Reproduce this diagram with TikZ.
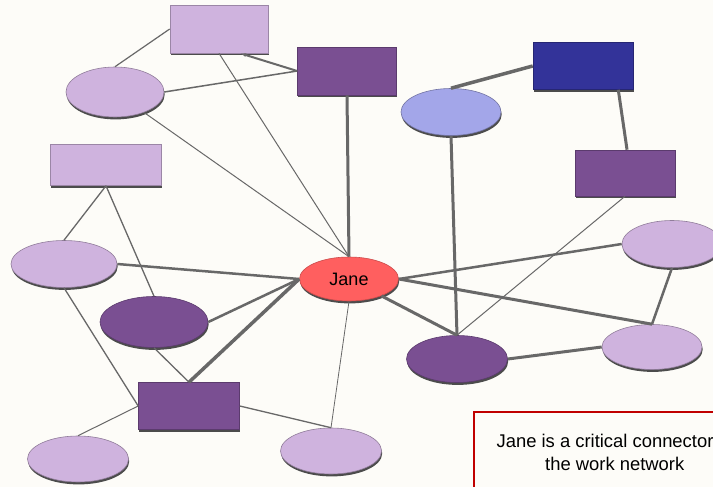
\documentclass[tikz,border=0pt]{standalone}
\usepackage{fontspec}
\setmainfont{Liberation Sans}
\usetikzlibrary{shapes.geometric,arrows.meta}

\definecolor{paper}{HTML}{FDFCF8}
\definecolor{lilac}{HTML}{CFB3DE}
\definecolor{plum}{HTML}{7A4F92}
\definecolor{navy}{HTML}{333399}
\definecolor{periwinkle}{HTML}{A3A6E9}
\definecolor{coral}{HTML}{FF5F5F}
\definecolor{linkgrey}{HTML}{686868}
\definecolor{notered}{HTML}{C00000}

\tikzset{
  member/.style={inner sep=0pt, line width=0.6pt,
    preaction={fill=black!70, transform canvas={xshift=0.7pt, yshift=-2.4pt}}},
  lightbox/.style={member, rectangle, fill=lilac, draw=lilac!75!black, minimum width=98pt, minimum height=48pt},
  darkbox/.style={member, rectangle, fill=plum, draw=plum!75!black, minimum width=100pt, minimum height=47pt},
  navybox/.style={member, rectangle, fill=navy, draw=navy!75!black, minimum width=100pt, minimum height=47pt},
  lightoval/.style={member, ellipse, fill=lilac, draw=lilac!70!black, minimum width=100pt, minimum height=47pt},
  darkoval/.style={member, ellipse, fill=plum, draw=plum!75!black, minimum width=101pt, minimum height=47pt},
  blueoval/.style={member, ellipse, fill=periwinkle, draw=periwinkle!70!black, minimum width=100pt, minimum height=47pt},
  janeoval/.style={member, ellipse, fill=coral, draw=coral!80!black, minimum width=99pt, minimum height=44pt,
    font=\fontsize{18}{22}\selectfont},
  thinlink/.style={draw=linkgrey, line width=1pt},
  midlink/.style={draw=linkgrey, line width=2pt},
  boldlink/.style={draw=linkgrey, line width=3pt},
  notebox/.style={draw=notered, line width=1.5pt, fill=paper, align=center, anchor=north west,
    minimum width=282pt, minimum height=81pt, font=\fontsize{18.4}{23}\selectfont}
}

\begin{document}
\begin{tikzpicture}[x=1pt,y=-1pt]
\useasboundingbox (0,0) rectangle (713,487);
\clip (0,0) rectangle (713,487);
\fill [paper] (0,0) rectangle (713,487);

% people
\node [lightbox] (b1) at (219,29) {};
\node [darkbox, minimum width=99pt, minimum height=48pt] (b2) at (347,71) {};
\node [lightbox, minimum width=111pt, minimum height=41pt] (b3) at (106,165) {};
\node [navybox] (b4) at (583,66) {};
\node [darkbox, minimum height=46pt] (b5) at (625,173) {};
\node [darkbox, minimum width=101pt] (b6) at (189,406) {};
\node [lightoval, minimum width=98pt, minimum height=50pt] (o1) at (115,92) {};
\node [blueoval] (o2) at (451,112) {};
\node [lightoval] (o3) at (672,244) {};
\node [lightoval, minimum width=106pt] (o4) at (64,264) {};
\node [darkoval, minimum width=108pt, minimum height=51pt] (o5) at (154,322) {};
\node [darkoval] (o6) at (457,359) {};
\node [lightoval, minimum height=45pt] (o7) at (652,347) {};
\node [lightoval, minimum width=101pt, minimum height=46pt] (o8) at (78,459) {};
\node [lightoval, minimum width=101pt, minimum height=46pt] (o9) at (331,451) {};
\node [janeoval] (jane) at (349,279) {Jane};

% ties
\draw [thinlink, line width=1.2pt] (o1.north) -- (b1.west);
\draw [thinlink, line width=1.5pt] (o1.east) -- (b2.west);
\draw [midlink, -{Latex[length=6pt,width=4pt]}] (b2.west) -- (b1.-49);
\draw [thinlink] (b1.south) -- (jane.north);
\draw [thinlink] (o1) -- (jane.north);
\draw [boldlink] (b2.south) -- (jane.north);
\draw [thinlink, line width=1.3pt] (b3.south) -- (o4.north);
\draw [thinlink, line width=1.3pt] (b3.south) -- (o5.north);
\draw [midlink, line width=2.5pt] (o4.east) -- (jane.west);
\draw [thinlink, line width=1.3pt] (o4.south) -- (b6.west);
\draw [midlink, line width=2.5pt] (o5.east) -- (jane.west);
\draw [boldlink, line width=3.5pt] (b6.north) -- (jane.west);
\draw [thinlink, line width=1.3pt] (o5.south) -- (b6.north);
\draw [thinlink] (b6.west) -- (o8.north);
\draw [thinlink, line width=1.3pt] (b6.east) -- (o9.north);
\draw [thinlink, line width=0.8pt] (jane.south) -- (o9.north);
\draw [boldlink, line width=3.5pt] (o2.north) -- (b4.west);
\draw [boldlink] (b4.-34) -- (b5.85);
\draw [boldlink] (o2.south) -- (o6.north);
\draw [thinlink] (b5.south) -- (o6.north);
\draw [midlink, line width=2.5pt] (jane.east) -- (o3.west);
\draw [boldlink] (jane.east) -- (o7.north);
\draw [boldlink] (jane) -- (o6.north);
\draw [midlink, line width=2.5pt] (o3.south) -- (o7.north);
\draw [boldlink] (o6.east) -- (o7.west);

% caption
\node [notebox] (note) at (473,411) {Jane is a critical connector\hphantom{ in}\\the work network};
\end{tikzpicture}
\end{document}
